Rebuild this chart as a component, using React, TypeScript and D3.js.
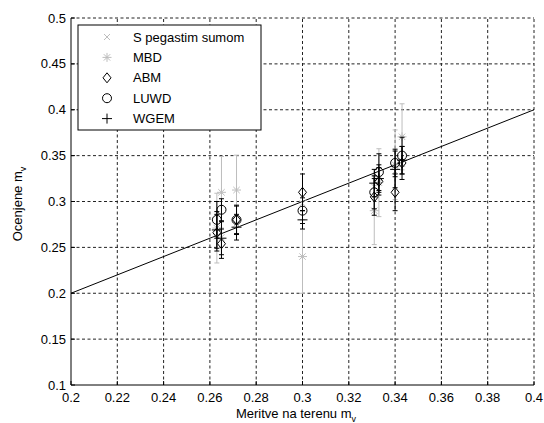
import React from "react";
import * as d3 from "d3";

// field measurements (x) for every site
const sites = [0.263, 0.265, 0.2715, 0.3, 0.331, 0.333, 0.34, 0.343];

// estimates per method
const sPegastim = [0.262, 0.261, 0.276, 0.298, 0.316, 0.326, 0.333, 0.341];
const mbd = [0.271, 0.31, 0.3125, 0.24, 0.29, 0.3205, 0.34, 0.3705];
const mbdErr = [0.038, 0.039, 0.038, 0.04, 0.037, 0.037, 0.038, 0.036];
const abm = [0.266, 0.254, 0.28, 0.31, 0.305, 0.322, 0.31, 0.342];
const abmErr = [0.02, 0.016, 0.015, 0.02, 0.02, 0.015, 0.02, 0.018];
const luwd = [0.28, 0.291, 0.28, 0.29, 0.31, 0.332, 0.342, 0.35];
const luwdErr = [0.02, 0.012, 0.016, 0.014, 0.018, 0.02, 0.015, 0.02];
const wgem = [0.269, 0.26, 0.272, 0.28, 0.32, 0.325, 0.335, 0.345];
const wgemErr = [0.02, 0.018, 0.014, 0.01, 0.015, 0.015, 0.02, 0.015];

const fitLine = [0.2, 0.4];

const xTicks = [0.2, 0.22, 0.24, 0.26, 0.28, 0.3, 0.32, 0.34, 0.36, 0.38, 0.4];
const yTicks = [0.1, 0.15, 0.2, 0.25, 0.3, 0.35, 0.4, 0.45, 0.5];

const legendNames = ["S pegastim sumom", "MBD", "ABM", "LUWD", "WGEM"];

const GRAY = "#bdbdbd";
const FONT = "'Liberation Sans', Arial, sans-serif";

const x = d3.scaleLinear().domain([0.2, 0.4]).range([71, 534]);
const y = d3.scaleLinear().domain([0.1, 0.5]).range([385, 18]);

type Kind = "x" | "star" | "diamond" | "circle" | "plus";

const Marker = ({ kind, cx, cy, color }: { kind: Kind; cx: number; cy: number; color: string }) => {
  const p = { stroke: color, strokeWidth: 1, fill: "none" };
  if (kind === "x")
    return (
      <path {...p} d={`M${cx - 3},${cy - 3}L${cx + 3},${cy + 3}M${cx - 3},${cy + 3}L${cx + 3},${cy - 3}`} />
    );
  if (kind === "star")
    return (
      <path
        {...p}
        d={`M${cx - 4.5},${cy}L${cx + 4.5},${cy}M${cx},${cy - 4.5}L${cx},${cy + 4.5}M${cx - 3.2},${cy - 3.2}L${cx + 3.2},${cy + 3.2}M${cx - 3.2},${cy + 3.2}L${cx + 3.2},${cy - 3.2}`}
      />
    );
  if (kind === "diamond")
    return <path {...p} d={`M${cx},${cy - 5}L${cx + 4},${cy}L${cx},${cy + 5}L${cx - 4},${cy}Z`} />;
  if (kind === "circle") return <circle {...p} cx={cx} cy={cy} r={4.5} />;
  return <path {...p} d={`M${cx - 5},${cy}L${cx + 5},${cy}M${cx},${cy - 5}L${cx},${cy + 5}`} />;
};

const ErrSeries = ({ vals, errs, kind, color }: { vals: number[]; errs?: number[]; kind: Kind; color: string }) => (
  <g>
    {vals.map((v, i) => {
      const cx = x(sites[i]);
      const e = errs ? errs[i] : 0;
      const y0 = y(v - e);
      const y1 = y(v + e);
      return (
        <g key={i}>
          {errs && (
            <path
              stroke={color}
              fill="none"
              strokeWidth={1}
              d={`M${cx},${y0}L${cx},${y1}M${cx - 2.5},${y0}L${cx + 2.5},${y0}M${cx - 2.5},${y1}L${cx + 2.5},${y1}`}
            />
          )}
          <Marker kind={kind} cx={cx} cy={y(v)} color={color} />
        </g>
      );
    })}
  </g>
);

export default function App() {
  const legendKinds: Kind[] = ["x", "star", "diamond", "circle", "plus"];
  const legendColors = [GRAY, GRAY, "#000", "#000", "#000"];
  return (
    <svg width={544} height={423} style={{ position: "absolute", left: 0, top: 0, background: "#fff" }}>
      <rect width={544} height={423} fill="#fff" />
      {/* grid */}
      <g stroke="#222" strokeWidth={1} strokeDasharray="3,2.5">
        {xTicks.slice(1).map((t) => (
          <line key={t} x1={x(t)} x2={x(t)} y1={y(0.1)} y2={y(0.5)} />
        ))}
        {yTicks.slice(1).map((t) => (
          <line key={t} x1={x(0.2)} x2={x(0.4)} y1={y(t)} y2={y(t)} />
        ))}
      </g>
      {/* axes */}
      <g stroke="#000" strokeWidth={1}>
        <line x1={x(0.2)} x2={x(0.2)} y1={y(0.1)} y2={y(0.5)} />
        <line x1={x(0.2)} x2={x(0.4)} y1={y(0.1)} y2={y(0.1)} />
        {xTicks.map((t) => (
          <line key={t} x1={x(t)} x2={x(t)} y1={y(0.1)} y2={y(0.1) - 4} />
        ))}
        {yTicks.map((t) => (
          <line key={t} x1={x(0.2)} x2={x(0.2) + 4} y1={y(t)} y2={y(t)} />
        ))}
      </g>
      <g fontFamily={FONT} fontSize={13} fill="#000">
        {xTicks.map((t) => (
          <text key={t} x={x(t)} y={402} textAnchor="middle">
            {String(t)}
          </text>
        ))}
        {yTicks.map((t) => (
          <text key={t} x={x(0.2) - 5} y={y(t) + 4.5} textAnchor="end">
            {String(t)}
          </text>
        ))}
        <text x={296} y={418} textAnchor="middle">
          Meritve na terenu m<tspan dy={4} fontSize={9}>v</tspan>
        </text>
        <text transform="translate(22,204) rotate(-90)" textAnchor="middle">
          Ocenjene m<tspan dy={4} fontSize={9}>v</tspan>
        </text>
      </g>
      {/* fitted line */}
      <line x1={x(fitLine[0])} y1={y(fitLine[0])} x2={x(fitLine[1])} y2={y(fitLine[1])} stroke="#000" strokeWidth={1} />
      <ErrSeries vals={sPegastim} kind="x" color={GRAY} />
      <ErrSeries vals={mbd} errs={mbdErr} kind="star" color={GRAY} />
      <ErrSeries vals={abm} errs={abmErr} kind="diamond" color="#000" />
      <ErrSeries vals={luwd} errs={luwdErr} kind="circle" color="#000" />
      <ErrSeries vals={wgem} errs={wgemErr} kind="plus" color="#000" />
      {/* legend */}
      <rect x={78} y={25} width={183} height={105} fill="#fff" stroke="#000" strokeWidth={1} />
      {legendNames.map((n, i) => (
        <g key={n}>
          <Marker kind={legendKinds[i]} cx={107} cy={37 + i * 20.4} color={legendColors[i]} />
          <text x={133} y={37 + i * 20.4 + 4.5} fontFamily={FONT} fontSize={13} fill="#000">
            {n}
          </text>
        </g>
      ))}
    </svg>
  );
}
